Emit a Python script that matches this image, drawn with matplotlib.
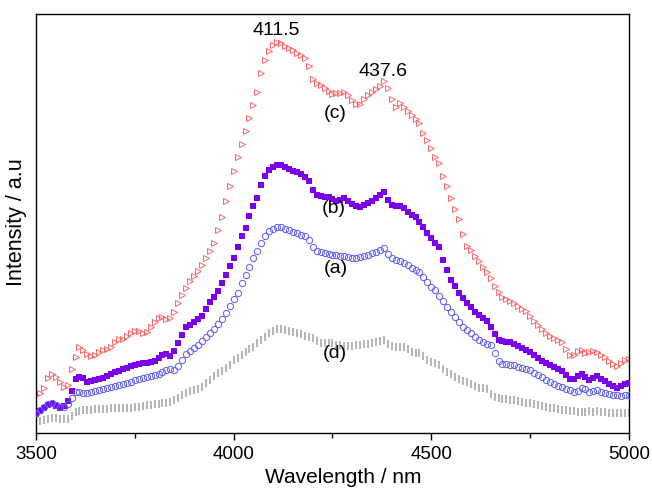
import numpy as np
import matplotlib
matplotlib.use("Agg")
import matplotlib.pyplot as plt
from matplotlib.ticker import MultipleLocator, NullLocator

plt.rcParams['font.family'] = ['Liberation Sans', 'DejaVu Sans']

# wavelength grid (nm), 10 nm steps
wavelength = np.arange(3500, 5001, 10)

# intensities (arbitrary units)
curve_c = [38, 40, 45, 55, 59, 56, 51, 46, 48, 64,
           76, 86, 83, 79, 77, 78, 81, 83, 84, 86,
           91, 94, 94, 97, 100, 102, 102, 100, 101, 106,
           111, 115, 116, 114, 115, 121, 130, 138, 145, 152,
           157, 162, 168, 175, 182, 190, 203, 216, 232, 247,
           262, 276, 289, 302, 315, 328, 341, 360, 373, 382,
           388, 391, 390, 387, 385, 383, 380, 378, 375, 367,
           354, 350, 348, 345, 342, 339, 340, 340, 341, 338,
           333, 329, 329, 334, 338, 341, 344, 347, 352, 345,
           334, 326, 330, 326, 322, 318, 314, 310, 300, 293,
           285, 276, 270, 257, 247, 235, 224, 214, 199, 187,
           183, 177, 172, 166, 161, 155, 147, 141, 136, 134,
           132, 130, 127, 124, 122, 117, 112, 108, 104, 100,
           97, 95, 93, 91, 84, 78, 78, 82, 83, 80,
           81, 82, 81, 78, 76, 72, 69, 67, 70, 73,
           74]

curve_b = [19, 22, 25, 28, 29, 27, 25, 27, 32, 42,
           54, 56, 55, 51, 52, 53, 54, 55, 57, 59,
           61, 62, 64, 65, 67, 68, 69, 70, 70, 71,
           72, 75, 78, 79, 77, 82, 90, 98, 106, 108,
           111, 114, 117, 124, 131, 136, 142, 150, 158, 167,
           175, 186, 197, 205, 217, 227, 235, 248, 257, 263,
           266, 268, 268, 266, 264, 262, 261, 259, 256, 252,
           243, 238, 237, 236, 236, 234, 232, 233, 235, 232,
           229, 227, 226, 228, 230, 232, 235, 238, 241, 233,
           228, 227, 227, 225, 221, 218, 216, 211, 206, 200,
           195, 190, 186, 173, 163, 153, 147, 140, 135, 130,
           126, 121, 118, 115, 112, 106, 99, 93, 92, 91,
           91, 89, 87, 85, 83, 81, 78, 75, 72, 70,
           68, 66, 64, 62, 58, 54, 54, 57, 59, 56,
           53, 55, 57, 54, 52, 49, 47, 45, 47, 49,
           50]

curve_a = [20, 23, 26, 29, 30, 28, 26, 26, 29, 35,
           41, 41, 40, 40, 41, 42, 43, 44, 45, 46,
           47, 48, 49, 50, 51, 53, 54, 55, 56, 57,
           58, 59, 61, 63, 64, 63, 67, 73, 79, 82,
           85, 88, 92, 96, 100, 104, 109, 114, 120, 127,
           134, 140, 150, 158, 166, 175, 182, 190, 197, 202,
           204, 206, 206, 204, 203, 201, 200, 198, 197, 193,
           186, 182, 181, 180, 179, 178, 178, 177, 177, 176,
           175, 175, 176, 177, 178, 180, 181, 183, 185, 179,
           175, 173, 172, 170, 168, 165, 163, 161, 156, 151,
           146, 143, 137, 132, 126, 121, 116, 111, 106, 103,
           100, 96, 93, 91, 89, 88, 80, 72, 69, 69,
           68, 68, 66, 65, 64, 63, 60, 58, 56, 53,
           51, 49, 47, 46, 44, 43, 41, 42, 45, 44,
           41, 42, 43, 41, 40, 39, 38, 38, 37, 38,
           38]

curve_d = [12, 12, 13, 14, 15, 15, 14, 14, 14, 17,
           21, 22, 23, 23, 23, 24, 24, 24, 24, 25,
           25, 25, 25, 25, 25, 26, 26, 27, 28, 28,
           29, 29, 30, 30, 31, 33, 35, 38, 40, 42,
           43, 44, 46, 50, 53, 57, 60, 62, 65, 68,
           73, 75, 78, 81, 84, 86, 90, 93, 96, 100,
           102, 104, 104, 103, 102, 101, 100, 99, 97, 96,
           95, 92, 90, 90, 90, 90, 88, 88, 87, 87,
           87, 88, 88, 89, 89, 90, 91, 92, 93, 89,
           87, 86, 86, 86, 84, 81, 80, 80, 77, 73,
           71, 70, 68, 64, 61, 59, 56, 54, 52, 51,
           49, 47, 45, 45, 44, 39, 36, 35, 34, 34,
           33, 33, 32, 31, 30, 30, 29, 28, 27, 26,
           25, 25, 24, 23, 23, 22, 22, 21, 21, 21,
           22, 21, 22, 21, 21, 20, 20, 20, 20, 20,
           20]

fig = plt.figure(figsize=(6.52, 4.92), dpi=100)
ax = fig.add_axes([0.0552, 0.1199, 0.9095, 0.8516])

ax.plot(wavelength, curve_c, linestyle='none', marker='>', markersize=4.5,
        markerfacecolor='none', markeredgecolor='#ff6464', markeredgewidth=0.7, zorder=2)
ax.plot(wavelength, curve_b, linestyle='none', marker='s', markersize=4,
        color='#7a00ee', markeredgewidth=0, zorder=3)
ax.plot(wavelength, curve_a, linestyle='none', marker='o', markersize=4.5,
        markerfacecolor='none', markeredgecolor='#5a5aff', markeredgewidth=0.7, zorder=4)
ax.plot(wavelength, curve_d, linestyle='none', marker='|', markersize=5.5,
        color='#a8a8a8', markeredgewidth=1.2, zorder=2)

# peak positions and curve labels
ax.text(4107, 403, '411.5', fontsize=14, ha='center', va='center')
ax.text(4377, 362, '437.6', fontsize=14, ha='center', va='center')
ax.text(4256, 320, '(c)', fontsize=14, ha='center', va='center')
ax.text(4254, 225, '(b)', fontsize=14, ha='center', va='center')
ax.text(4259, 165, '(a)', fontsize=14, ha='center', va='center')
ax.text(4256, 80, '(d)', fontsize=14, ha='center', va='center')

ax.set_xlim(3500, 5000)
ax.set_ylim(0, 419)
ax.xaxis.set_major_locator(MultipleLocator(500))
ax.xaxis.set_minor_locator(MultipleLocator(250))
ax.yaxis.set_major_locator(NullLocator())
ax.tick_params(axis='x', which='major', direction='out', length=5, width=1, labelsize=13.5, pad=4)
ax.tick_params(axis='x', which='minor', direction='out', length=3.5, width=1)
for s in ax.spines.values():
    s.set_linewidth(1.0)

ax.set_xlabel('Wavelength / nm', fontsize=15)
ax.xaxis.set_label_coords(0.518, -0.084)
ax.set_ylabel('Intensity / a.u', fontsize=15.5)
ax.yaxis.set_label_coords(-0.016, 0.504)

fig.savefig('out.png', dpi=100)
